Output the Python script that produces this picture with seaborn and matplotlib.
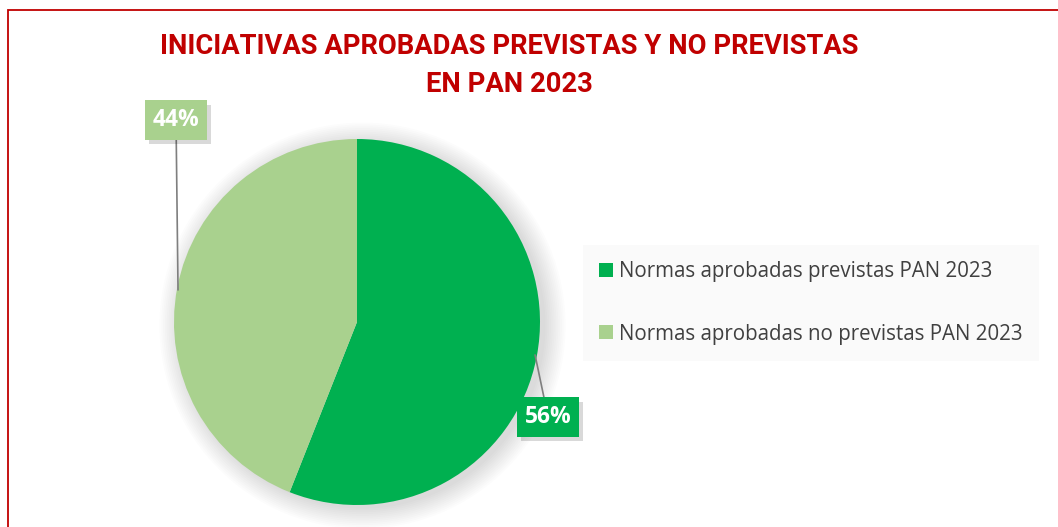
import numpy as np
import matplotlib
matplotlib.use('Agg')
import matplotlib.pyplot as plt
import matplotlib.patheffects as pe
from matplotlib.patches import Circle, Rectangle
import seaborn as sns

# Data
categories = ['Normas aprobadas previstas PAN 2023',
              'Normas aprobadas no previstas PAN 2023']
shares = [56, 44]
colors = ['#00B050', '#A9D18E']
title_lines = ['INICIATIVAS APROBADAS PREVISTAS Y NO PREVISTAS', 'EN PAN 2023']

sns.set_theme(style='white')
plt.rcParams['font.family'] = ['Open Sans', 'DejaVu Sans']

fig = plt.figure(figsize=(10.58, 5.27), dpi=100)
fig.patch.set_facecolor('white')

# red frame (open to the right and bottom)
fig.patches.append(Rectangle((8 / 1058, -0.2), 1.2, (527 - 10) / 527 + 0.2,
                             transform=fig.transFigure, fill=False,
                             edgecolor='#C00000', linewidth=1.3))

# Title, scaled so the first line spans about 698 px like the original
renderer = fig.canvas.get_renderer()
t1 = fig.text(509 / 1058, 1 - 47 / 527, title_lines[0], ha='center', va='center',
              color='#C00000', fontsize=20, fontweight='bold',
              family=['Roboto', 'DejaVu Sans'])
w = t1.get_window_extent(renderer).width
fs = 20 * 698 / w
t1.set_fontsize(fs)
fig.text(509 / 1058, 1 - 84 / 527, title_lines[1], ha='center', va='center',
         color='#C00000', fontsize=fs, fontweight='bold',
         family=['Roboto', 'DejaVu Sans'])

# Pie axes
cx, cy, r = 357, 322, 183
ax = fig.add_axes([(cx - r) / 1058, (527 - cy - r) / 527, 2 * r / 1058, 2 * r / 527])

# soft shadow behind pie
for i in range(12):
    ax.add_patch(Circle((0.03, -0.02), 1.0 + 0.01 * i, color='black',
                        alpha=0.01, zorder=0, clip_on=False, lw=0))

wedges, _ = ax.pie(shares, colors=colors, startangle=90, counterclock=False,
                   radius=1, wedgeprops=dict(linewidth=0))
for wd in wedges:
    wd.set_zorder(2)
ax.set_xlim(-1, 1)
ax.set_ylim(-1, 1)
ax.set_aspect('equal')
ax.axis('off')

# Data labels with leader lines
label_pos = [(1.044, -0.519), (-0.989, 1.104)]
anchor_pos = [(0.973, -0.180), (-0.978, 0.175)]
for val, col, lp, ap in zip(shares, colors, label_pos, anchor_pos):
    t = ax.annotate(f'{val}%', xy=ap, xytext=lp, ha='center', va='center',
                    color='white', fontsize=16.5, fontweight='bold',
                    annotation_clip=False, zorder=5,
                    bbox=dict(boxstyle='square,pad=0.33', fc=col, ec='none'),
                    arrowprops=dict(arrowstyle='-', color='#7F7F7F', lw=1.2,
                                    shrinkA=0, shrinkB=0))
    t.get_bbox_patch().set_path_effects([
        pe.SimplePatchShadow(offset=(3, -3), shadow_rgbFace='black', alpha=0.15),
        pe.Normal()])

# Legend
leg = fig.legend(wedges, categories, loc='upper left',
                 bbox_to_anchor=(583 / 1058, 1 - 245 / 527),
                 frameon=True, fontsize=14.8, labelcolor='#404040',
                 handlelength=0.65, handleheight=0.65, handletextpad=0.3,
                 labelspacing=2.0, borderpad=0.8, borderaxespad=0)
leg.get_frame().set_facecolor('#F9F9F9')
leg.get_frame().set_edgecolor('none')
leg.get_frame().set_boxstyle('square', pad=0)

fig.savefig('out.png', dpi=100, facecolor='white')
